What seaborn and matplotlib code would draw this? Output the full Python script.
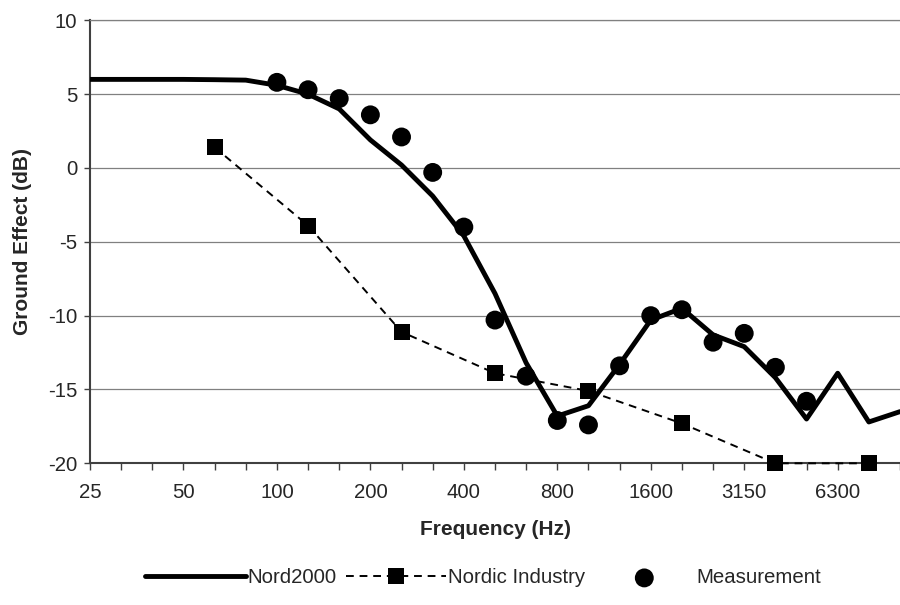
import matplotlib
matplotlib.use('Agg')
import matplotlib.pyplot as plt
import seaborn as sns
import pandas as pd

# third-octave bands used as the category axis
bands = ['25', '31.5', '40', '50', '63', '80', '100', '125', '160', '200', '250',
         '315', '400', '500', '630', '800', '1000', '1250', '1600', '2000', '2500',
         '3150', '4000', '5000', '6300', '8000', '10000']

nord2000 = [6.0, 6.0, 6.0, 6.0, 5.98, 5.95, 5.6, 5.0, 4.0, 1.9, 0.2, -1.9, -4.6,
            -8.5, -13.2, -16.8, -16.1, -13.3, -10.3, -9.5, -11.3, -12.1, -14.2,
            -17.0, -13.9, -17.2, -16.5]

industry_bands = ['63', '125', '250', '500', '1000', '2000', '4000', '8000']
nordic_industry = [1.4, -3.9, -11.1, -13.9, -15.1, -17.3, -20.0, -20.0]

meas_bands = ['100', '125', '160', '200', '250', '315', '400', '500', '630', '800',
              '1000', '1250', '1600', '2000', '2500', '3150', '4000', '5000']
measurement = [5.8, 5.3, 4.7, 3.6, 2.1, -0.3, -4.0, -10.3, -14.1, -17.1, -17.4,
               -13.4, -10.0, -9.6, -11.8, -11.2, -13.5, -15.8]

tick_labels = [b if i % 3 == 0 else '' for i, b in enumerate(bands)]


def frame(band_list, values):
    return pd.DataFrame({'pos': [bands.index(b) for b in band_list], 'value': values})


def main():
    sns.set_theme(style='white')
    plt.rcParams['font.family'] = ['Liberation Sans', 'DejaVu Sans']
    plt.rcParams['axes.unicode_minus'] = False

    fig = plt.figure(figsize=(9, 6.05), dpi=100)
    ax = fig.add_axes([0.1, 0.2342, 0.9, 0.7322])

    sns.lineplot(data=frame(bands, nord2000), x='pos', y='value', color='black',
                 linewidth=3.5, ax=ax, label='Nord2000', zorder=3)
    sns.lineplot(data=frame(industry_bands, nordic_industry), x='pos', y='value',
                 color='black', linewidth=1.4, linestyle=(0, (4, 3)), marker='s',
                 markersize=11.5, markeredgewidth=0, ax=ax, label='Nordic Industry',
                 zorder=4, clip_on=False)
    sns.scatterplot(data=frame(meas_bands, measurement), x='pos', y='value',
                    color='black', s=185, edgecolor='none', ax=ax,
                    label='Measurement', zorder=5, clip_on=False)

    ax.set_xlim(0, 25.83)
    ax.set_ylim(-20, 10)
    ax.set_yticks(range(-20, 11, 5))
    ax.set_xticks(range(len(bands)))
    ax.set_xticklabels(tick_labels)

    ax.grid(axis='y', color='#808080', linewidth=0.9)
    ax.grid(axis='x', visible=False)
    ax.set_axisbelow(True)
    for side in ['left', 'bottom']:
        ax.spines[side].set_color('#404040')
        ax.spines[side].set_linewidth(1.5)
    ax.spines['top'].set_color('#808080')
    ax.spines['top'].set_linewidth(0.9)
    ax.spines['right'].set_visible(False)

    ax.tick_params(axis='y', direction='out', length=4.3, width=1, color='#404040',
                   pad=5, labelsize=14.7, left=True)
    ax.tick_params(axis='x', direction='out', length=5, width=1, color='#404040',
                   pad=9, labelsize=14.7, bottom=True)

    ax.set_xlabel('Frequency (Hz)', fontsize=15, fontweight='bold')
    ax.set_ylabel('Ground Effect (dB)', fontsize=15, fontweight='bold')
    ax.xaxis.set_label_coords(0.5, -0.128)
    ax.yaxis.set_label_coords(-0.072, 0.5)

    handles, labels = ax.get_legend_handles_labels()
    ax.get_legend().remove()
    fig.legend(handles, labels, loc='center', bbox_to_anchor=(0.537, 0.045), ncol=3,
               frameon=False, fontsize=14.7, handlelength=4.9, handletextpad=0.1,
               columnspacing=0.45)

    fig.savefig('out.png', dpi=100)
    plt.close(fig)


if __name__ == '__main__':
    main()
